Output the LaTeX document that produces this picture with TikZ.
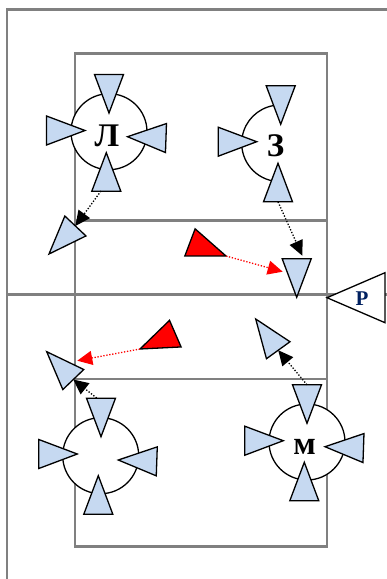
\documentclass[tikz,border=0pt]{standalone}
\usepackage{fontspec}
\setmainfont{Liberation Serif}
\usepackage{tikz}
\usetikzlibrary{arrows.meta, shapes.geometric}

\begin{document}
\begin{tikzpicture}[
x=1pt, y=-1pt,
courtline/.style={draw={rgb,255:red,128;green,128;blue,128}, line width=2.6pt},
zone/.style={
    draw,
    circle,
    line width=1.3pt,
    fill=white,
    inner sep=0pt,
    minimum size=76pt
},
player/.style={
    draw,
    isosceles triangle,
    isosceles triangle stretches,
    line width=1.3pt,
    line join=miter,
    inner sep=0pt,
    outer sep=0pt,
    minimum width=29pt,
    minimum height=38.5pt,
    anchor=apex,
    fill={rgb,255:red,198;green,217;blue,241}
},
attacker/.style={player, fill=red},
move/.style={line width=1.3pt, dash pattern=on 1.3pt off 1.7pt, -{Triangle[length=15pt, width=14pt]}},
letter/.style={font=\bfseries\fontsize{33}{33}\selectfont, inner sep=0pt}
]
\useasboundingbox (0,0) rectangle (387,579);

% Frame and court
\draw[courtline] (7,579) -- (7,9.5) -- (387,9.5);
\draw[courtline] (75,53.5) rectangle (327,546.5);
\draw[courtline] (75,220.5) -- (327,220.5);
\draw[courtline] (75,379) -- (327,379);
\draw[courtline] (7,294.7) -- (387,294.7);

% Zones
\node[zone] (circleL) at (109,131.7) {};
\draw[line width=1.3pt] (280,143.3) ++(100:38.3) arc[start angle=100, end angle=260, radius=38.3];
\node[zone] (circleB) at (100.7,455.7) {};
\node[zone] (circleM) at (307,442) {};

% Letters
\node[letter] (textL) at (107,136) {Л};
\node[letter] (textZ) at (275.7,145.3) {З};
\node[letter] (textM) at (304.7,447) {м};

% Group top left
\node[player, rotate=-90] (ltop) at (109,113) {};
\node[player] (lleft) at (85,130.5) {};
\node[player, rotate=178] (lright) at (127.5,136.7) {};
\node[player, rotate=90] (lbottom) at (106.3,152.7) {};
\node[player, rotate=-133.3] (lmoved) at (49,254) {};

% Group top right
\node[player, rotate=-90] (ztop) at (280.7,124.3) {};
\node[player] (zleft) at (256.7,141.7) {};
\node[player, rotate=90] (zbottom) at (278,163.3) {};
\node[player, rotate=-90] (zmoved) at (296.7,297.3) {};

% Group bottom left
\node[player, rotate=-90] (btop) at (101,436.7) {};
\node[player] (bleft) at (77.3,454) {};
\node[player, rotate=178] (bright) at (118.3,460) {};
\node[player, rotate=90] (bbottom) at (98.3,475.7) {};
\node[player, rotate=133.7] (bmoved) at (46.7,351.7) {};

% Group bottom right
\node[player, rotate=-90] (mtop) at (307,423.3) {};
\node[player] (mleft) at (283.3,440.7) {};
\node[player, rotate=178] (mright) at (325,446.7) {};
\node[player, rotate=90] (mbottom) at (304.3,462.3) {};
\node[player, rotate=125.8] (mmoved) at (255.7,319) {};

% Red triangles
\node[attacker, rotate=-20.7] (redtop) at (226,256) {};
\node[attacker, rotate=-156.5] (redbottom) at (140,349) {};

% Referee
\node[player, rotate=180, fill=white, minimum width=50pt, minimum height=58pt] (referee) at (327,297.7) {};
\node[font=\bfseries\fontsize{21}{21}\selectfont, text={rgb,255:red,0;green,32;blue,96}, inner sep=0pt] (textR) at (362,299) {Р};

% Moves
\coordinate (zend) at (302.3,255.7);
\coordinate (redend) at (282.7,271.7);
\coordinate (bluered) at (77.3,360.7);
\coordinate (bstart) at (96.7,398);
\coordinate (lstart) at (101,191);
\draw[move] (lstart) -- (lmoved.lower side);
\draw[move] (zbottom.lower side) -- (zend);
\draw[move] (bstart) -- (bmoved.lower side);
\draw[move] (mtop.lower side) -- (mmoved.lower side);
\draw[move, red] (redtop.apex) -- (redend);
\draw[move, red] (redbottom.apex) -- (bluered);

\end{tikzpicture}
\end{document}
